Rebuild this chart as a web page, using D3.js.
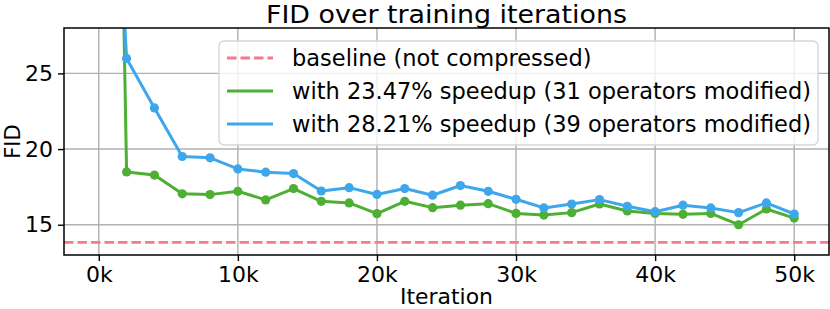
<!DOCTYPE html>
<html>
<head>
<meta charset="utf-8">
<script src="https://cdn.jsdelivr.net/npm/d3@7"></script>
<style>
	body { margin: 0; background: #fff; }
	text { font-family: "DejaVu Sans", sans-serif; fill: #000; }
</style>
</head>
<body>
<svg id="chart"></svg>
<script>
const iterations = [0, 2000, 4000, 6000, 8000, 10000, 12000, 14000, 16000, 18000, 20000, 22000, 24000,
	26000, 28000, 30000, 32000, 34000, 36000, 38000, 40000, 42000, 44000, 46000, 48000, 50000];
const fid_2347 = [120, 18.49, 18.28, 17.04, 16.99, 17.21, 16.64, 17.39, 16.55, 16.44, 15.73, 16.55, 16.13,
	16.29, 16.39, 15.75, 15.64, 15.80, 16.37, 15.91, 15.75, 15.69, 15.75, 15.00, 16.04, 15.44];
const fid_2821 = [60, 25.99, 22.72, 19.51, 19.42, 18.69, 18.47, 18.38, 17.23, 17.45, 17.00, 17.39, 16.95,
	17.59, 17.21, 16.68, 16.11, 16.37, 16.66, 16.22, 15.86, 16.29, 16.11, 15.80, 16.44, 15.71];
const baseline_fid = 13.84;
const x_ticks = [0, 10000, 20000, 30000, 40000, 50000];
const y_ticks = [15, 20, 25];
const legend_labels = ['baseline (not compressed)',
	'with 23.47% speedup (31 operators modified)',
	'with 28.21% speedup (39 operators modified)'];

const SVG_WIDTH = 830;
const SVG_HEIGHT = 309;
const margin = {top: 28, right: 1, bottom: 54, left: 64};

const PINK = '#f7798e';
const GREEN = '#4daf33';
const BLUE = '#3ea7ec';

const svg = d3.select('#chart')
	.attr('width', SVG_WIDTH)
	.attr('height', SVG_HEIGHT);

const x = d3.scaleLinear()
	.domain([-2500, 52500])
	.range([margin.left, SVG_WIDTH - margin.right]);

const y = d3.scaleLinear()
	.domain([13.0, 28.0])
	.range([SVG_HEIGHT - margin.bottom, margin.top]);

svg.append('defs').append('clipPath')
	.attr('id', 'plot_clip')
	.append('rect')
	.attr('x', x.range()[0])
	.attr('y', y.range()[1])
	.attr('width', x.range()[1] - x.range()[0])
	.attr('height', y.range()[0] - y.range()[1]);

// grid
const grid = svg.append('g').attr('class', 'grid');
grid.selectAll('.vgrid')
	.data(x_ticks)
	.enter().append('line')
	.attr('x1', d => x(d)).attr('x2', d => x(d))
	.attr('y1', y.range()[0]).attr('y2', y.range()[1])
	.attr('stroke', '#b0b0b0')
	.attr('stroke-width', 1.4);
grid.selectAll('.hgrid')
	.data(y_ticks)
	.enter().append('line')
	.attr('x1', x.range()[0]).attr('x2', x.range()[1])
	.attr('y1', d => y(d)).attr('y2', d => y(d))
	.attr('stroke', '#b0b0b0')
	.attr('stroke-width', 1.4);

const plot = svg.append('g').attr('clip-path', 'url(#plot_clip)');

plot.append('line')
	.attr('x1', x.range()[0]).attr('x2', x.range()[1])
	.attr('y1', y(baseline_fid)).attr('y2', y(baseline_fid))
	.attr('stroke', PINK)
	.attr('stroke-width', 2.8)
	.attr('stroke-dasharray', '9.5,4');

const line = d3.line()
	.x(d => x(d[0]))
	.y(d => y(d[1]));

const series = [
	{values: fid_2347, color: GREEN},
	{values: fid_2821, color: BLUE}
];

series.forEach(s => {
	const pts = iterations.map((it, i) => [it, s.values[i]]);
	plot.append('path')
		.datum(pts)
		.attr('fill', 'none')
		.attr('stroke', s.color)
		.attr('stroke-width', 3)
		.attr('stroke-linejoin', 'round')
		.attr('d', line);
	plot.selectAll(null)
		.data(pts)
		.enter().append('circle')
		.attr('cx', d => x(d[0]))
		.attr('cy', d => y(d[1]))
		.attr('r', 4.6)
		.attr('fill', s.color);
});

// axes
const x_axis = d3.axisBottom(x)
	.tickValues(x_ticks)
	.tickSize(6)
	.tickPadding(5)
	.tickFormat(d => `${d / 1000}k`);
const gx = svg.append('g')
	.attr('transform', `translate(0,${y.range()[0]})`)
	.call(x_axis);
gx.select('.domain').remove();
gx.selectAll('text').attr('font-size', 22);
gx.selectAll('line').attr('stroke-width', 1.4);

const y_axis = d3.axisLeft(y)
	.tickValues(y_ticks)
	.tickSize(6)
	.tickPadding(5);
const gy = svg.append('g')
	.attr('transform', `translate(${x.range()[0]},0)`)
	.call(y_axis);
gy.select('.domain').remove();
gy.selectAll('text').attr('font-size', 22);
gy.selectAll('line').attr('stroke-width', 1.4);

svg.append('rect')
	.attr('x', x.range()[0])
	.attr('y', y.range()[1])
	.attr('width', x.range()[1] - x.range()[0])
	.attr('height', y.range()[0] - y.range()[1])
	.attr('fill', 'none')
	.attr('stroke', '#000')
	.attr('stroke-width', 1.5);

// legend
const lg = svg.append('g').attr('transform', 'translate(219,41)');
lg.append('rect')
	.attr('width', 599)
	.attr('height', 104)
	.attr('rx', 5)
	.attr('fill', 'rgba(255,255,255,0.8)')
	.attr('stroke', '#d6d6d6')
	.attr('stroke-width', 1.4);
const legend_items = [
	{label: legend_labels[0], color: PINK, dash: '9.5,4'},
	{label: legend_labels[1], color: GREEN, dash: null},
	{label: legend_labels[2], color: BLUE, dash: null}
];
legend_items.forEach((it, i) => {
	const yy = 17 + i * 33;
	lg.append('line')
		.attr('x1', 8).attr('x2', 54)
		.attr('y1', yy).attr('y2', yy)
		.attr('stroke', it.color)
		.attr('stroke-width', 2.8)
		.attr('stroke-dasharray', it.dash);
	lg.append('text')
		.attr('x', 73)
		.attr('y', yy + 8)
		.attr('font-size', 22.5)
		.text(it.label);
});

// labels
svg.append('text')
	.attr('x', (x.range()[0] + x.range()[1]) / 2)
	.attr('y', 22.5)
	.attr('text-anchor', 'middle')
	.attr('font-size', 24)
	.attr('textLength', 361)
	.attr('lengthAdjust', 'spacingAndGlyphs')
	.text('FID over training iterations');

svg.append('text')
	.attr('x', (x.range()[0] + x.range()[1]) / 2)
	.attr('y', 303.5)
	.attr('text-anchor', 'middle')
	.attr('font-size', 21)
	.attr('textLength', 93)
	.attr('lengthAdjust', 'spacingAndGlyphs')
	.text('Iteration');

svg.append('text')
	.attr('transform', `translate(19.5,${(y.range()[0] + y.range()[1]) / 2}) rotate(-90)`)
	.attr('text-anchor', 'middle')
	.attr('font-size', 21)
	.text('FID');
</script>
</body>
</html>
